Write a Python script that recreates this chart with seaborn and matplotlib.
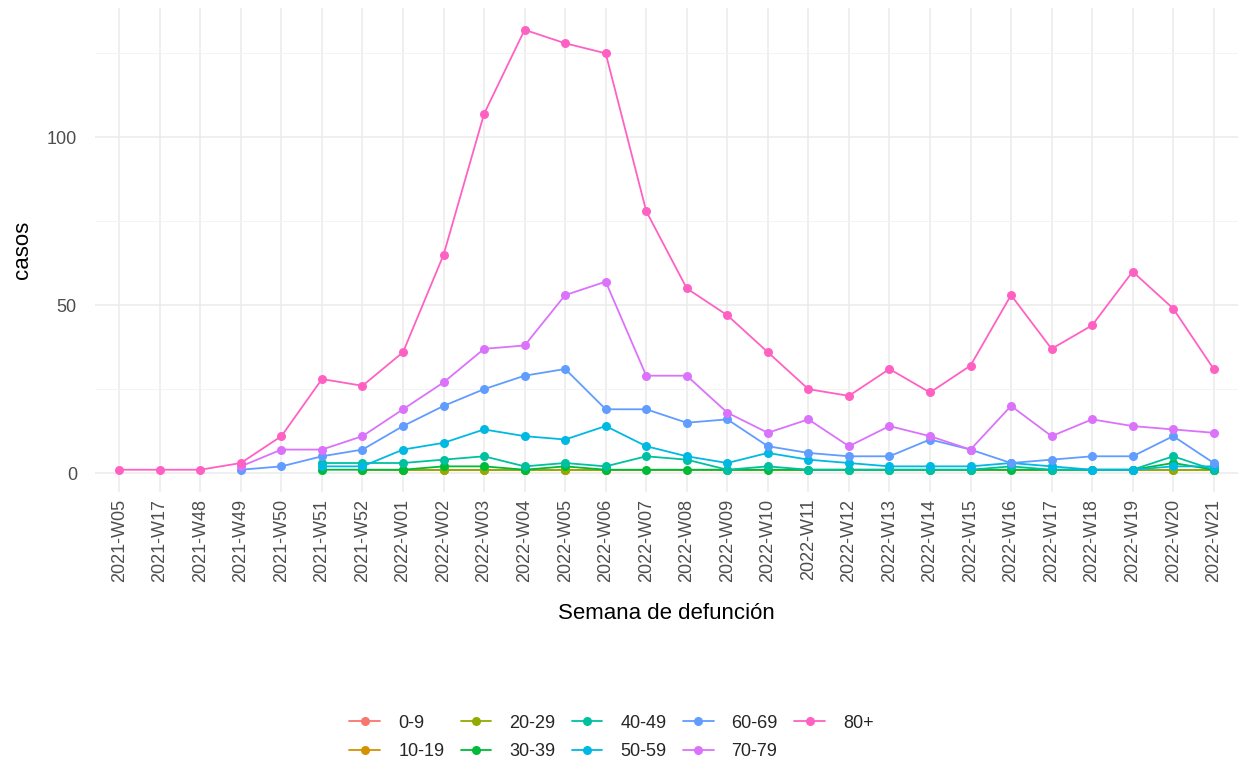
import numpy as np
import pandas as pd
import matplotlib
matplotlib.use("Agg")
import matplotlib.pyplot as plt
import seaborn as sns
from matplotlib.ticker import MultipleLocator

weeks = ["2021-W05", "2021-W17", "2021-W48", "2021-W49", "2021-W50", "2021-W51", "2021-W52",
         "2022-W01", "2022-W02", "2022-W03", "2022-W04", "2022-W05", "2022-W06", "2022-W07",
         "2022-W08", "2022-W09", "2022-W10", "2022-W11", "2022-W12", "2022-W13", "2022-W14",
         "2022-W15", "2022-W16", "2022-W17", "2022-W18", "2022-W19", "2022-W20", "2022-W21"]

N = None
g_0_9   = [N, N, N, N, N, N, N, N, N, N, N, 1, 1, N, N, N, N, N, N, N, N, N, N, N, N, N, N, N]
g_10_19 = [N, N, N, N, N, N, N, 1, 1, 1, 1, 1, 1, N, N, N, N, N, N, N, N, N, N, N, N, N, 1, 1]
g_20_29 = [N, N, N, N, N, N, 1, 1, 1, 1, 1, 1, N, N, N, N, N, N, N, N, N, N, N, N, N, 1, 1, 1]
g_30_39 = [N, N, N, N, N, 1, 1, 1, 2, 2, 1, 2, 1, 1, 1, 1, 1, 1, 1, 1, 1, 1, 1, 1, 1, 1, 3, 1]
g_40_49 = [N, N, N, N, N, 3, 3, 3, 4, 5, 2, 3, 2, 5, 4, 1, 2, 1, 1, 1, 1, 1, 2, 1, 1, 1, 5, 1]
g_50_59 = [N, N, N, N, N, 2, 2, 7, 9, 13, 11, 10, 14, 8, 5, 3, 6, 4, 3, 2, 2, 2, 3, 2, 1, 1, 2, 2]
g_60_69 = [N, N, N, 1, 2, 5, 7, 14, 20, 25, 29, 31, 19, 19, 15, 16, 8, 6, 5, 5, 10, 7, 3, 4, 5, 5, 11, 3]
g_70_79 = [N, N, N, 2, 7, 7, 11, 19, 27, 37, 38, 53, 57, 29, 29, 18, 12, 16, 8, 14, 11, 7, 20, 11, 16, 14, 13, 12]
g_80p   = [1, 1, 1, 3, 11, 28, 26, 36, 65, 107, 132, 128, 125, 78, 55, 47, 36, 25, 23, 31, 24, 32, 53, 37, 44, 60, 49, 31]

groups = ["0-9", "10-19", "20-29", "30-39", "40-49", "50-59", "60-69", "70-79", "80+"]
series = [g_0_9, g_10_19, g_20_29, g_30_39, g_40_49, g_50_59, g_60_69, g_70_79, g_80p]
palette = ["#F8766D", "#D39200", "#93AA00", "#00BA38", "#00C19F",
           "#00B9E3", "#619CFF", "#DB72FB", "#FF61C3"]

rows = []
for g, vals in zip(groups, series):
    for w, v in zip(weeks, vals):
        if v is not None:
            rows.append({"semana": w, "grupo": g, "casos": v})
df = pd.DataFrame(rows)
df["semana"] = pd.Categorical(df["semana"], categories=weeks, ordered=True)
df["grupo"] = pd.Categorical(df["grupo"], categories=groups, ordered=True)

sns.set_theme(style="whitegrid")
plt.rcParams["font.family"] = ["Liberation Sans", "DejaVu Sans"]

fig = plt.figure(figsize=(12.43, 7.83), dpi=100)
ax = fig.add_axes([0.0764, 0.372, 0.9196, 0.618])

sns.lineplot(data=df, x="semana", y="casos", hue="grupo", hue_order=groups,
             palette=palette, marker="o", markersize=6.5, markeredgewidth=0,
             linewidth=1.3, estimator=None, sort=True, ax=ax, legend=True)

ax.set_xlim(-0.6, len(weeks) - 1 + 0.6)
ax.set_ylim(-5.55, 138.55)
ax.yaxis.set_major_locator(MultipleLocator(50))
ax.yaxis.set_minor_locator(MultipleLocator(25))
ax.set_xticks(range(len(weeks)))
ax.set_xticklabels(weeks, rotation=90)

ax.set_facecolor("white")
for s in ax.spines.values():
    s.set_visible(False)
ax.grid(which="major", color="#EBEBEB", linewidth=1.1)
ax.grid(which="minor", axis="y", color="#F3F3F3", linewidth=0.6)
ax.tick_params(axis="both", which="both", length=0, labelsize=13, labelcolor="#4D4D4D")
ax.tick_params(axis="x", pad=5)
ax.tick_params(axis="y", pad=13)

ax.set_xlabel("Semana de defunción", fontsize=16, color="black", labelpad=15)
ax.set_ylabel("casos", fontsize=16, color="black", labelpad=10)

handles, labels = ax.get_legend_handles_labels()
ax.get_legend().remove()
fig.legend(handles, labels, loc="center", bbox_to_anchor=(0.492, 0.058), ncol=5,
           frameon=False, fontsize=13, handlelength=1.7, columnspacing=0.9,
           handletextpad=1.0, labelspacing=0.65)

fig.savefig("out.png", dpi=100, facecolor="white")
